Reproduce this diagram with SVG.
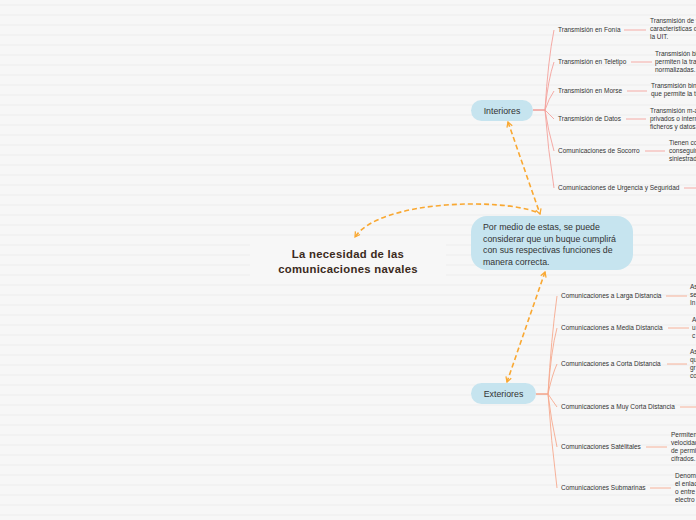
<svg xmlns="http://www.w3.org/2000/svg" width="696" height="520" viewBox="0 0 696 520">
<defs>
<pattern id="lines" x="0" y="0" width="696" height="10" patternUnits="userSpaceOnUse">
<rect width="696" height="10" fill="#f7f7f7"/>
<rect y="4.5" width="696" height="1" fill="#ededed"/>
</pattern>
<marker id="arr" viewBox="0 0 10 10" refX="8" refY="5" markerWidth="7" markerHeight="7" orient="auto-start-reverse" markerUnits="userSpaceOnUse">
<path d="M1,1 L8,5 L1,9" fill="none" stroke="#f9a832" stroke-width="1.8"/>
</marker>
<style>
.bg{fill:url(#lines)}
.t{font-family:"Liberation Sans",Arial,sans-serif;fill:#333}
.c{font-size:6.5px}
.d{font-size:6.5px}
.dash{fill:none;stroke:#f9a832;stroke-width:1.6;stroke-dasharray:5,3}
.ri{fill:none;stroke:#f4a19c;stroke-width:0.9}
.re{fill:none;stroke:#f6a98f;stroke-width:0.9}
.pill{fill:#c6e4ef}
.ttl{font-family:"Liberation Sans",Arial,sans-serif;font-size:11.3px;font-weight:bold;fill:#3b2a20;letter-spacing:0.3px}
</style>
</defs>
<rect class="bg" width="696" height="520"/>

<g id="connectors">
<path class="ri" d="M533,110 L545,110" stroke-width="2.2" style="stroke:#ea5d55"/>
<path class="ri" d="M545,110 Q548,60 554,30"/>
<path class="ri" d="M545,110 Q548,80 554,62"/>
<path class="ri" d="M545,110 Q549,98 554,91"/>
<path class="ri" d="M545,110 Q549,114 554,119"/>
<path class="ri" d="M545,110 Q548,130 554,151"/>
<path class="ri" d="M545,110 Q548,150 554,188"/>
<path class="ri" d="M624,30 L646,30"/>
<path class="ri" d="M631,62 L652,62"/>
<path class="ri" d="M627,91 L647,91"/>
<path class="ri" d="M626,119 L646,119"/>
<path class="ri" d="M645,151 L665,151"/>
<path class="ri" d="M684,188 L696,188"/>

<path class="re" d="M536,394 L548,394" stroke-width="2.2" style="stroke:#f06a3c"/>
<path class="re" d="M548,394 Q551,340 557,296"/>
<path class="re" d="M548,394 Q551,350 557,328"/>
<path class="re" d="M548,394 Q552,375 557,364"/>
<path class="re" d="M548,394 Q552,400 557,407"/>
<path class="re" d="M548,394 Q551,420 557,447"/>
<path class="re" d="M548,394 Q551,440 557,488"/>
<path class="re" d="M666,296 L687,296"/>
<path class="re" d="M668,328 L689,328"/>
<path class="re" d="M667,364 L687,364"/>
<path class="re" d="M680,407 L696,407"/>
<path class="re" d="M646,447 L667,447"/>
<path class="re" d="M650,488 L671,488"/>

<path class="dash" d="M508,122 L540,214" marker-start="url(#arr)" marker-end="url(#arr)"/>
<path class="dash" d="M536,212 C500,198 380,200 355,237" marker-end="url(#arr)"/>
<path class="dash" d="M545,272 L507,382" marker-start="url(#arr)" marker-end="url(#arr)"/>
</g>

<g id="title">
<rect x="250" y="238" width="196" height="44" fill="#f7f7f7"/>
<text class="ttl" x="348" y="258" text-anchor="middle">La necesidad de las</text>
<text class="ttl" x="348" y="273" text-anchor="middle">comunicaciones navales</text>
</g>

<g id="central">
<rect class="pill" x="471" y="216" width="162" height="54" rx="16"/>
<text class="t" font-size="8.8" x="483" y="230">Por medio de estas, se puede</text>
<text class="t" font-size="8.8" x="483" y="241.5">considerar que un buque cumplirá</text>
<text class="t" font-size="8.8" x="483" y="253">con sus respectivas funciones de</text>
<text class="t" font-size="8.8" x="483" y="264.5">manera correcta.</text>
</g>

<g id="interiores">
<rect class="pill" x="471" y="100" width="62" height="21" rx="10.5"/>
<text class="t" font-size="8.8" x="502" y="113.5" text-anchor="middle">Interiores</text>
</g>

<g id="exteriores">
<rect class="pill" x="471" y="383" width="65" height="21" rx="10.5"/>
<text class="t" font-size="8.8" x="503.5" y="397" text-anchor="middle">Exteriores</text>
</g>

<g id="fonia"><text class="t c" x="558" y="32">Transmisión en Fonía</text>
<text class="t d" x="650" y="23">Transmisión de voz con</text>
<text class="t d" x="650" y="31">características definidas por</text>
<text class="t d" x="650" y="39">la UIT.</text></g>

<g id="teletipo"><text class="t c" x="558" y="64">Transmisión en Teletipo</text>
<text class="t d" x="655" y="56">Transmisión binaria que</text>
<text class="t d" x="655" y="64">permiten la transmisión de</text>
<text class="t d" x="655" y="72">normalizadas.</text></g>

<g id="morse"><text class="t c" x="558" y="93">Transmisión en Morse</text>
<text class="t d" x="651" y="88">Transmisión binaria</text>
<text class="t d" x="651" y="96">que permite la transmisión</text></g>

<g id="datos"><text class="t c" x="558" y="121">Transmisión de Datos</text>
<text class="t d" x="650" y="113">Transmisión m-aria de</text>
<text class="t d" x="650" y="121">privados o internos de</text>
<text class="t d" x="650" y="129">ficheros y datos.</text></g>

<g id="socorro"><text class="t c" x="558" y="153">Comunicaciones de Socorro</text>
<text class="t d" x="669" y="145">Tienen como</text>
<text class="t d" x="669" y="153">conseguir</text>
<text class="t d" x="669" y="161">siniestrados</text></g>

<g id="urgencia"><text class="t c" x="558" y="190">Comunicaciones de Urgencia y Seguridad</text></g>

<g id="larga"><text class="t c" x="561" y="298">Comunicaciones a Larga Distancia</text>
<text class="t d" x="690" y="289">Así</text>
<text class="t d" x="690" y="297">se</text>
<text class="t d" x="690" y="305">In</text></g>

<g id="media"><text class="t c" x="561" y="330">Comunicaciones a Media Distancia</text>
<text class="t d" x="692" y="322">A</text>
<text class="t d" x="692" y="330">u</text>
<text class="t d" x="692" y="338">c</text></g>

<g id="corta"><text class="t c" x="561" y="366">Comunicaciones a Corta Distancia</text>
<text class="t d" x="690" y="354">As</text>
<text class="t d" x="690" y="362">qu</text>
<text class="t d" x="690" y="370">gr</text>
<text class="t d" x="690" y="378">co</text></g>

<g id="muycorta"><text class="t c" x="561" y="409">Comunicaciones a Muy Corta Distancia</text></g>

<g id="satelitales"><text class="t c" x="561" y="449">Comunicaciones Satélitales</text>
<text class="t d" x="671" y="437">Permiten</text>
<text class="t d" x="671" y="445">velocidad</text>
<text class="t d" x="671" y="453">de permitir</text>
<text class="t d" x="671" y="461">cifrados.</text></g>

<g id="submarinas"><text class="t c" x="561" y="490">Comunicaciones Submarinas</text>
<text class="t d" x="675" y="478">Denomina</text>
<text class="t d" x="675" y="486">el enlace</text>
<text class="t d" x="675" y="494">o entre</text>
<text class="t d" x="675" y="502">electro</text></g>
</svg>
